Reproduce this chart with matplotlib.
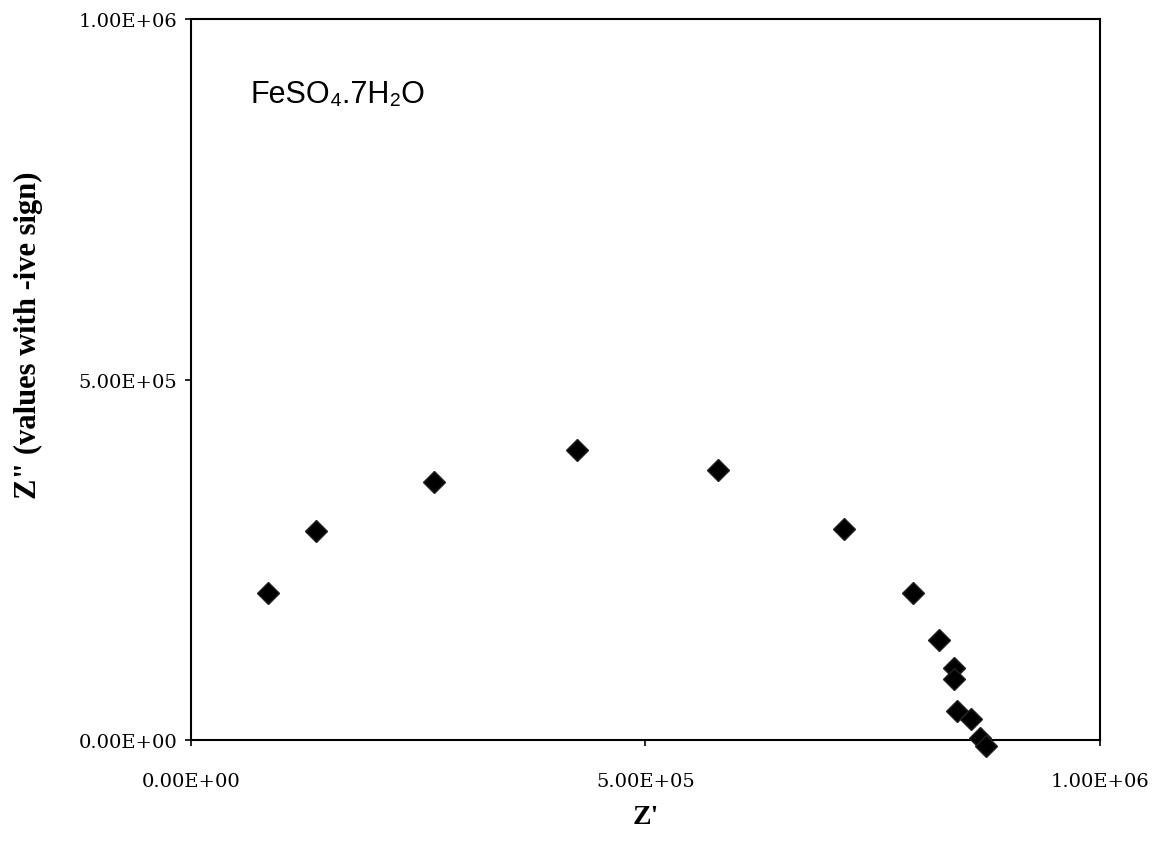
import matplotlib
matplotlib.use("Agg")
import matplotlib.pyplot as plt

# Nyquist data for FeSO4.7H2O
z_real = [84700, 137500, 267000, 425000, 580000, 719000, 794000, 823000,
          840000, 840000, 843000, 858000, 868000, 875000]
z_imag = [204000, 290000, 358000, 403000, 375000, 293000, 204000, 139000,
          100000, 85000, 40000, 29000, 3000, -8000]

x_ticks = [0, 5e5, 1e6]
y_ticks = [0, 5e5, 1e6]
tick_labels = ["0.00E+00", "5.00E+05", "1.00E+06"]

fig = plt.figure(figsize=(11.54, 8.45), dpi=100)
ax = fig.add_axes([0.1655, 0.123, 0.7875, 0.853])

ax.plot(z_real, z_imag, linestyle='none', marker='D', markersize=11,
        color='black', markeredgecolor='#222222', clip_on=False, zorder=3)

ax.set_xlim(0, 1e6)
ax.set_ylim(0, 1e6)
ax.set_xticks(x_ticks)
ax.set_yticks(y_ticks)
ax.set_xticklabels(tick_labels)
ax.set_yticklabels(tick_labels)
ax.tick_params(direction='out', length=4, width=1.2, labelsize=14)
ax.tick_params(axis='x', pad=19)
ax.tick_params(axis='y', pad=6)
for lab in ax.get_xticklabels() + ax.get_yticklabels():
    lab.set_family('DejaVu Serif')

for sp in ax.spines.values():
    sp.set_linewidth(1.5)
    sp.set_color('black')

ax.set_xlabel("Z'", family='Liberation Serif', fontweight='bold', fontsize=20, labelpad=10)
fig.text(28 / 1154, 1 - 335 / 845, 'Z" (values with -ive sign)', family='Liberation Serif',
         fontweight='bold', fontsize=22, rotation=90, ha='center', va='center')

# sample name, subscripts as unicode characters
ax.text(0.065, 0.885, 'FeSO\u2084.7H\u2082O', transform=ax.transAxes,
        family=['Liberation Sans', 'DejaVu Sans'], fontsize=22, va='baseline', ha='left')

fig.savefig('out.png', dpi=100)
